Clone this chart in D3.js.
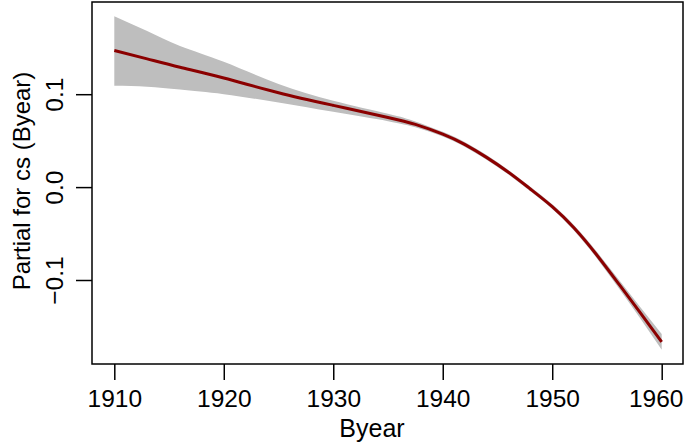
<!DOCTYPE html>
<html>
<head>
<meta charset="utf-8">
<script src="https://cdn.jsdelivr.net/npm/d3@7"></script>
<style>
  body { margin: 0; background: #fff; }
  text { font-family: "Liberation Sans", Arial, sans-serif; fill: #000; }
</style>
</head>
<body>
<div id="chart"></div>
<script>
// values
var years = [1910, 1913, 1916, 1920, 1925, 1930, 1935, 1937.5, 1940, 1942, 1944, 1946, 1948, 1950, 1952, 1954, 1956, 1958, 1960]
var fit   = [0.147, 0.138, 0.129, 0.1174, 0.1016, 0.088, 0.075, 0.0675, 0.057, 0.046, 0.032, 0.016, -0.002, -0.021, -0.044, -0.072, -0.103, -0.1346, -0.1666]
var upper = [0.184, 0.168, 0.152, 0.135, 0.111, 0.093, 0.079, 0.0707, 0.0595, 0.0485, 0.0345, 0.0185, 0.0005, -0.0185, -0.041, -0.0685, -0.0985, -0.1286, -0.158]
var lower = [0.109, 0.108, 0.105, 0.100, 0.091, 0.081, 0.071, 0.0643, 0.0545, 0.0435, 0.0295, 0.0135, -0.0045, -0.0235, -0.047, -0.0755, -0.1075, -0.1406, -0.1752]
var xTicks = [1910, 1920, 1930, 1940, 1950, 1960]
var yTicks = [-0.1, 0.0, 0.1]

var width = 685, height = 446
var box = {left: 92, right: 683, top: 2, bottom: 364}

var svg = d3.select("#chart")
  .append("svg")
    .attr("width", width)
    .attr("height", height)

var x = d3.scaleLinear().domain([1910, 1960]).range([114.3, 661.7])
var y = d3.scaleLinear().domain([-0.1, 0.1]).range([280.0, 94.2])

var data = years.map(function(d, i) {
  return {year: d, fit: fit[i], lo: lower[i], hi: upper[i]}
})

// confidence band
svg.append("path")
  .datum(data)
  .attr("fill", "#bebebe")
  .attr("stroke", "none")
  .attr("d", d3.area()
    .curve(d3.curveNatural)
    .x(function(d) { return x(d.year) })
    .y0(function(d) { return y(d.lo) })
    .y1(function(d) { return y(d.hi) }))

// fitted line
svg.append("path")
  .datum(data)
  .attr("fill", "none")
  .attr("stroke", "#8b0000")
  .attr("stroke-width", 3)
  .attr("d", d3.line()
    .curve(d3.curveNatural)
    .x(function(d) { return x(d.year) })
    .y(function(d) { return y(d.fit) }))

// box around plot
svg.append("rect")
  .attr("x", box.left)
  .attr("y", box.top)
  .attr("width", box.right - box.left)
  .attr("height", box.bottom - box.top)
  .attr("fill", "none")
  .attr("stroke", "#000")
  .attr("stroke-width", 1.5)

// x axis
var xAxis = svg.append("g")
  .attr("transform", "translate(0," + box.bottom + ")")
  .call(d3.axisBottom(x).tickValues(xTicks).tickSize(16).tickFormat(d3.format("d")))
xAxis.select(".domain").remove()
xAxis.selectAll("line").attr("stroke", "#000").attr("stroke-width", 1.5)
xAxis.selectAll("text")
  .attr("y", null).attr("dy", null)
  .attr("transform", function(d) { return "translate(" + (d == 1960 ? -6 : 0) + ",43)" })
  .style("font-size", "24.5px")
  .style("font-family", "Liberation Sans, Arial, sans-serif")

// y axis
var yAxis = svg.append("g")
  .attr("transform", "translate(" + box.left + ",0)")
  .call(d3.axisLeft(y).tickValues(yTicks).tickSize(16).tickFormat(function(d) {
    return d3.format(".1f")(d).replace("-", "\u2212")
  }))
yAxis.select(".domain").remove()
yAxis.selectAll("line").attr("stroke", "#000").attr("stroke-width", 1.5)
yAxis.selectAll("text")
  .attr("x", null).attr("dy", null)
  .attr("text-anchor", "middle")
  .attr("transform", "translate(-29,0) rotate(-90)")
  .style("font-size", "24.5px")
  .style("font-family", "Liberation Sans, Arial, sans-serif")

// axis titles
svg.append("text")
  .attr("x", 372)
  .attr("y", 437)
  .attr("text-anchor", "middle")
  .style("font-size", "25px")
  .text("Byear")

svg.append("text")
  .attr("transform", "translate(30,181) rotate(-90)")
  .attr("text-anchor", "middle")
  .style("font-size", "24px")
  .text("Partial for cs (Byear)")
</script>
</body>
</html>
